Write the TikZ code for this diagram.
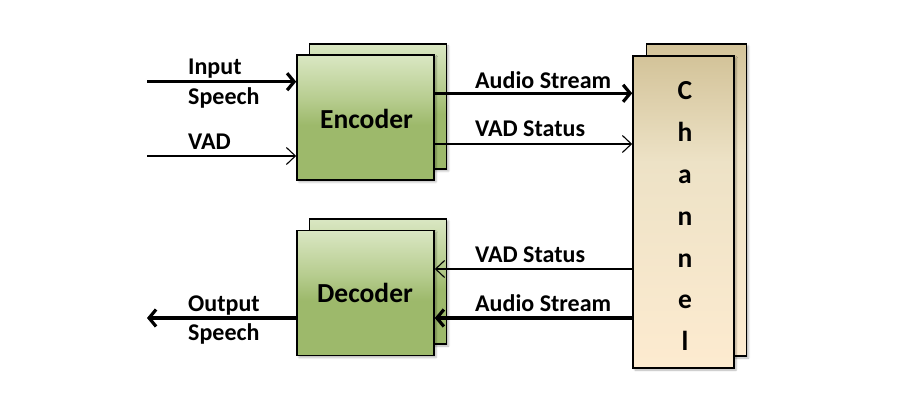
\documentclass[tikz,border=0pt]{standalone}
\usepackage{fontspec}
\setmainfont{Carlito}
\usetikzlibrary{arrows.meta,shadows.blur}
\definecolor{grtop}{HTML}{DAE7C3}
\definecolor{grmid}{HTML}{B6CC8E}
\definecolor{grbot}{HTML}{9DB96B}
\definecolor{tntop}{HTML}{D3C399}
\definecolor{tnmid}{HTML}{EDE2C6}
\definecolor{tnbot}{HTML}{FDEBD0}
\pgfdeclareverticalshading{greenshade}{100bp}{
  color(0bp)=(grbot); color(25bp)=(grbot); color(47bp)=(grbot); color(57bp)=(grmid); color(75bp)=(grtop); color(100bp)=(grtop)}
\pgfdeclareverticalshading{tanshade}{100bp}{
  color(0bp)=(tnbot); color(25bp)=(tnbot); color(58bp)=(tnmid); color(75bp)=(tntop); color(100bp)=(tntop)}
\tikzset{
  gbox/.style={draw=black, line width=1.6pt, shading=greenshade, rectangle, inner sep=0pt,
    blur shadow={shadow xshift=2pt, shadow yshift=-2pt, shadow blur steps=4, shadow opacity=30}},
  tbox/.style={draw=black, line width=1.6pt, shading=tanshade, rectangle, inner sep=0pt,
    blur shadow={shadow xshift=2pt, shadow yshift=-2pt, shadow blur steps=4, shadow opacity=30}},
  thickarr/.style={line width=3.2pt, -{Straight Barb[length=7pt,width=17pt,line width=3.2pt]}},
  thinarr/.style={line width=1.1pt, -{Straight Barb[length=9pt,width=17pt,line width=1.1pt]}},
  lbl/.style={font=\bfseries\fontsize{24}{28}\selectfont, anchor=base west, inner sep=0pt},
  big/.style={font=\bfseries\fontsize{27.5}{32}\selectfont, anchor=base, inner sep=0pt},
}
\begin{document}
\begin{tikzpicture}[x=1pt,y=-1pt]
\useasboundingbox (0,0) rectangle (900,419);
% boxes
\node[gbox, minimum width=137pt, minimum height=125pt] (encback) at (378,106.5) {};
\node[gbox, minimum width=137pt, minimum height=125pt] (enc) at (365.5,117.5) {};
\node[gbox, minimum width=137pt, minimum height=125pt] (decback) at (378,281.5) {};
\node[gbox, minimum width=137pt, minimum height=125pt] (dec) at (365.5,293) {};
\node[tbox, minimum width=100pt, minimum height=312pt] (chback) at (696.5,200) {};
\node[tbox, minimum width=101pt, minimum height=312pt] (ch) at (683.5,212) {};
% texts in boxes
\node[big] (enct) at (366.5,128.3) {Encoder};
\node[big] (dect) at (365,302.7) {Decoder};
\foreach \ch/\yy [count=\i] in {C/100,h/141.8,a/183.6,n/225.4,n/267.2,e/309,l/350.8}
  \node[big] (chl\i) at (685,\yy) {\ch};
% coordinates for free ends
\coordinate (inS) at (147,81.7);
\coordinate (inV) at (147,156);
\coordinate (outS) at (147,318);
% arrows
\draw[thickarr] (inS) -- (inS -| enc.west);
\draw[thinarr] (inV) -- (inV -| enc.west);
\draw[thickarr] (enc.east |- 0,93.3) -- (ch.west |- 0,93.3);
\draw[thinarr] (enc.east |- 0,144) -- (ch.west |- 0,144);
\draw[thinarr] (ch.west |- 0,269) -- (dec.east |- 0,269);
\draw[thickarr] (ch.west |- 0,318) -- (dec.east |- 0,318);
\draw[thickarr] (dec.west |- outS) -- (outS);
% labels
\node[lbl] (l1) at (188,74.3) {Input};
\node[lbl] (l2) at (188,104.3) {Speech};
\node[lbl] (l3) at (188,149.3) {VAD};
\node[lbl] (l4) at (475,88.3) {Audio Stream};
\node[lbl] (l5) at (475,136.7) {VAD Status};
\node[lbl] (l6) at (475,262.3) {VAD Status};
\node[lbl] (l7) at (475,311.7) {Audio Stream};
\node[lbl] (l8) at (188,311.7) {Output};
\node[lbl] (l9) at (188,341) {Speech};
\end{tikzpicture}
\end{document}
